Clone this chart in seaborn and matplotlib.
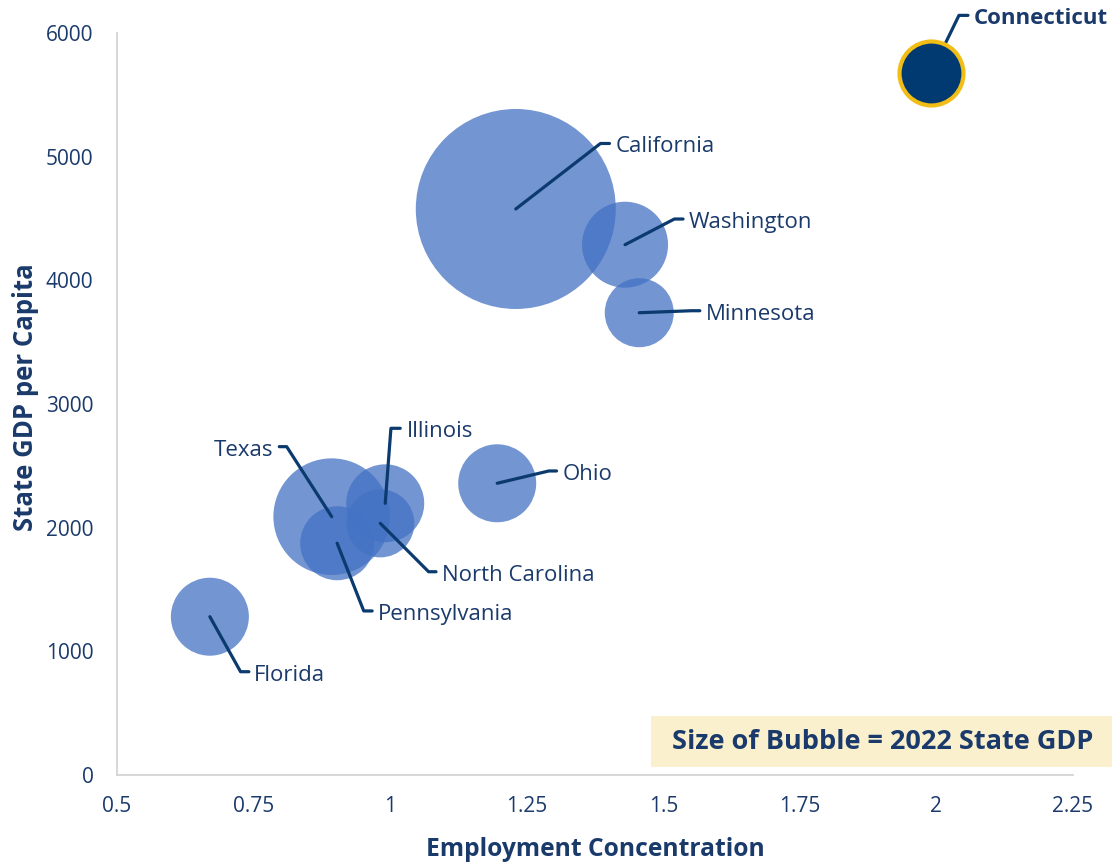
import numpy as np
import pandas as pd
import matplotlib
matplotlib.use("Agg")
import matplotlib.pyplot as plt
from matplotlib.patches import Rectangle
import seaborn as sns

# ---------------- data ----------------
states = ["California", "Washington", "Minnesota", "Ohio", "Texas",
          "Illinois", "North Carolina", "Pennsylvania", "Florida", "Connecticut"]
employment_concentration = [1.230, 1.430, 1.456, 1.196, 0.893,
                            0.991, 0.982, 0.903, 0.670, 1.990]
gdp_per_capita = [4577, 4288, 3738, 2359, 2089,
                  2197, 2035, 1874, 1280, 5676]
gdp_2022 = [3750, 693, 446, 570, 1275,
            570, 435, 513, 570, 384]
x_ticks = [0.5, 0.75, 1, 1.25, 1.5, 1.75, 2, 2.25]
x_tick_labels = ["0.5", "0.75", "1", "1.25", "1.5", "1.75", "2", "2.25"]
y_ticks = [0, 1000, 2000, 3000, 4000, 5000, 6000]

# label leader geometry: elbow offset (px, right/up), horizontal length, gap, side
leaders = {
    "California":     (84.7, 65.5, 9.0, 6.0, 1),
    "Washington":     (49.3, 25.7, 8.7, 5.5, 1),
    "Minnesota":      (52.0, 2.0, 8.6, 6.0, 1),
    "Ohio":           (51.6, 12.3, 7.7, 6.0, 1),
    "Texas":          (-45.0, 70.0, 7.4, 6.5, -1),
    "Illinois":       (5.7, 75.0, 9.3, 6.5, 1),
    "North Carolina": (48.3, -48.4, 7.4, 5.5, 1),
    "Pennsylvania":   (26.6, -67.7, 8.4, 6.0, 1),
    "Florida":        (30.7, -55.0, 8.3, 5.5, 1),
    "Connecticut":    (28.0, 57.7, 9.0, 5.5, 1),
}
text_drop = 3.5  # px the label sits below its leader's horizontal segment

df = pd.DataFrame({"state": states, "x": employment_concentration,
                   "y": gdp_per_capita, "gdp": gdp_2022})
highlight = "Connecticut"

# ---------------- style ----------------
sns.set_theme(style="white")
plt.rcParams["font.family"] = ["Open Sans", "DejaVu Sans"]
navy_text = "#1A3A6B"
navy = "#0B3A6E"
bubble_blue = "#4472C4"
ct_fill = "#003A70"
ct_edge = "#F2BE16"

fig = plt.figure(figsize=(11.14, 8.66), dpi=100)
W, H = 1114, 866
ax = fig.add_axes([117 / W, (H - 775) / H, (1073 - 117) / W, (775 - 33) / H])

# size mapping: marker area proportional to GDP
k = 5.53
gmin, gmax = min(gdp_2022), max(gdp_2022)
others = df[df.state != highlight]
ct = df[df.state == highlight]

sns.scatterplot(data=others, x="x", y="y", size="gdp",
                sizes=(gmin * k, gmax * k), size_norm=(gmin, gmax),
                color=bubble_blue, alpha=0.75, linewidth=0,
                legend=False, ax=ax, zorder=1)
sns.scatterplot(data=ct, x="x", y="y", size="gdp",
                sizes=(gmin * k, gmax * k), size_norm=(gmin, gmax),
                color=ct_fill, edgecolor=ct_edge, linewidth=3.0,
                legend=False, ax=ax, zorder=6)

# ---------------- labels with elbow leaders ----------------
for _, r in df.iterrows():
    ex, ey, h, g, side = leaders[r.state]
    ang = np.degrees(np.arctan2(ey, ex))
    bold = r.state == highlight
    # leader: from the end of the short horizontal segment to the bubble centre
    ax.annotate(
        "", xy=(r.x, r.y), xytext=(ex + side * h, ey), textcoords="offset pixels",
        arrowprops=dict(arrowstyle="-", color=navy, lw=2.3, shrinkA=0, shrinkB=0,
                        connectionstyle=f"angle,angleA=0,angleB={ang},rad=0"),
        zorder=4,
    )
    ax.annotate(
        r.state, xy=(r.x, r.y), xytext=(ex + side * (h + g), ey - text_drop),
        textcoords="offset pixels",
        ha="left" if side > 0 else "right", va="center",
        fontsize=16, color=navy_text, fontweight="bold" if bold else "normal",
        zorder=4,
    )

# ---------------- axes ----------------
ax.set_xlim(0.5, 2.25)
ax.set_ylim(0, 6000)
ax.set_xticks(x_ticks)
ax.set_xticklabels(x_tick_labels)
ax.set_yticks(y_ticks)
ax.set_yticklabels([str(v) for v in y_ticks])
ax.tick_params(axis="both", length=0, labelsize=15, labelcolor=navy_text)
ax.tick_params(axis="y", pad=17)
ax.tick_params(axis="x", pad=15)
for s in ["top", "right"]:
    ax.spines[s].set_visible(False)
for s in ["left", "bottom"]:
    ax.spines[s].set_color("#D4D4D4")
    ax.spines[s].set_linewidth(1.3)
ax.grid(False)

ax.set_xlabel("Employment Concentration", fontsize=17.7, fontweight="bold", color=navy_text)
ax.set_ylabel("State GDP per Capita", fontsize=18.5, fontweight="bold", color=navy_text)
ax.xaxis.set_label_coords(0.5, (775 - 850) / 742)
ax.xaxis.label.set_va("center")
ax.yaxis.set_label_coords((25 - 117) / 956, (775 - 397) / 742)
ax.yaxis.label.set_va("center")

# ---------------- size note box ----------------
fig.patches.append(Rectangle((651 / W, 1 - 767 / H), (1112 - 651) / W, (767 - 716) / H,
                             transform=fig.transFigure, facecolor="#FBF0CE",
                             edgecolor="none", zorder=0))
fig.text(883 / W, 1 - 742 / H, "Size of Bubble = 2022 State GDP", ha="center", va="center",
         fontsize=19.5, fontweight="bold", color=navy_text)

fig.savefig("out.png", dpi=100)
